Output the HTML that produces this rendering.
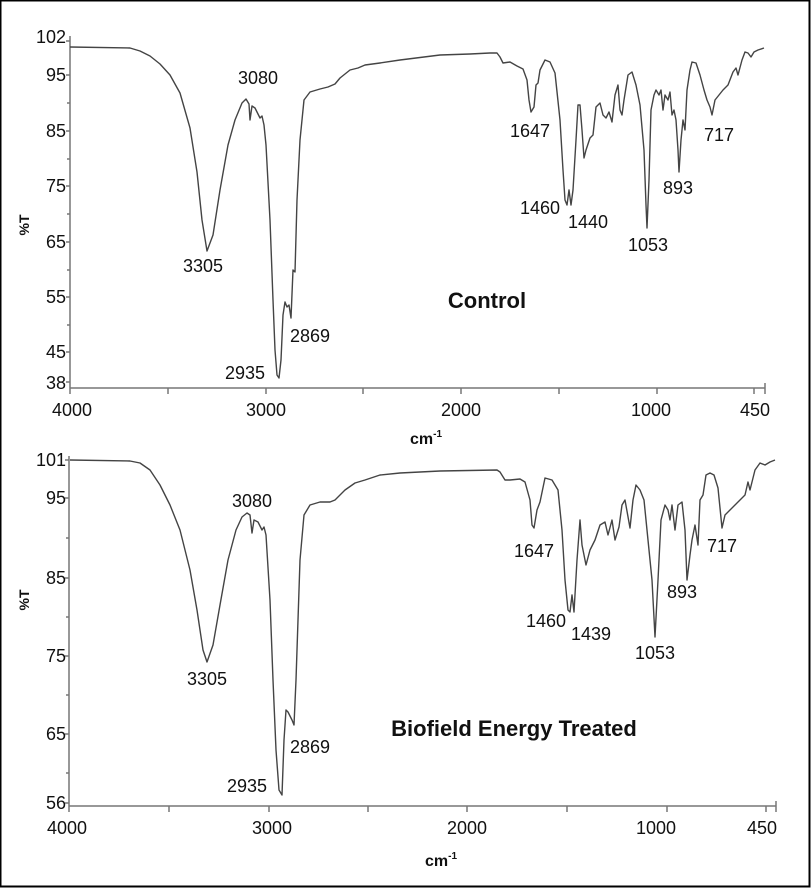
<!DOCTYPE html>
<html><head><meta charset="utf-8"><style>
html,body{margin:0;padding:0;background:#fff}
svg{display:block}
text{font-family:"Liberation Sans",Arial,sans-serif;fill:#111}
.n{font-size:18px}
.b{font-weight:bold}
</style></head><body>
<svg width="811" height="888" viewBox="0 0 811 888" xmlns="http://www.w3.org/2000/svg">
<rect x="0.5" y="0.5" width="809" height="886" fill="#fff" stroke="#000" stroke-width="2"/>
<g stroke="#777" stroke-width="1.5" fill="none">
<!-- top axes -->
<line x1="70" y1="36" x2="70" y2="388"/>
<line x1="70" y1="388" x2="765" y2="388"/>
<line x1="70" y1="388" x2="70" y2="394"/><line x1="168" y1="388" x2="168" y2="394"/><line x1="266" y1="388" x2="266" y2="394"/><line x1="363" y1="388" x2="363" y2="394"/><line x1="461" y1="388" x2="461" y2="394"/><line x1="559" y1="388" x2="559" y2="394"/><line x1="657" y1="388" x2="657" y2="394"/><line x1="754" y1="388" x2="754" y2="394"/><line x1="765" y1="383" x2="765" y2="394"/>
<line x1="66" y1="41" x2="70" y2="41"/><line x1="66" y1="75" x2="70" y2="75"/><line x1="67" y1="103" x2="70" y2="103"/><line x1="66" y1="131" x2="70" y2="131"/><line x1="67" y1="159" x2="70" y2="159"/><line x1="66" y1="186" x2="70" y2="186"/><line x1="67" y1="214" x2="70" y2="214"/><line x1="66" y1="242" x2="70" y2="242"/><line x1="67" y1="270" x2="70" y2="270"/><line x1="66" y1="297" x2="70" y2="297"/><line x1="67" y1="325" x2="70" y2="325"/><line x1="66" y1="352" x2="70" y2="352"/><line x1="66" y1="382" x2="70" y2="382"/>
<!-- bottom axes -->
<line x1="69" y1="456" x2="69" y2="806"/>
<line x1="69" y1="806" x2="776" y2="806"/>
<line x1="69" y1="806" x2="69" y2="812"/><line x1="169" y1="806" x2="169" y2="812"/><line x1="269" y1="806" x2="269" y2="812"/><line x1="368" y1="806" x2="368" y2="812"/><line x1="467" y1="806" x2="467" y2="812"/><line x1="567" y1="806" x2="567" y2="812"/><line x1="667" y1="806" x2="667" y2="812"/><line x1="766" y1="806" x2="766" y2="812"/><line x1="776" y1="801" x2="776" y2="812"/>
<line x1="65" y1="460" x2="69" y2="460"/><line x1="65" y1="498" x2="69" y2="498"/><line x1="66" y1="538" x2="69" y2="538"/><line x1="65" y1="578" x2="69" y2="578"/><line x1="66" y1="617" x2="69" y2="617"/><line x1="65" y1="656" x2="69" y2="656"/><line x1="66" y1="695" x2="69" y2="695"/><line x1="65" y1="734" x2="69" y2="734"/><line x1="66" y1="773" x2="69" y2="773"/><line x1="65" y1="803" x2="69" y2="803"/>
</g>
<g stroke="#444" stroke-width="1.4" fill="none" stroke-linejoin="round">
<polyline points="70,47 130,48 140,51 150,56 160,64 170,75 180,93 190,128 197,172 202,220 207,251 213,235 220,190 228,145 235,120 242,103 246,99 249,104 250,120 252,106 255,108 258,114 260,118 262,116 264,125 266,145 270,220 273,300 275,350 277,375 279,378 281,360 283,315 285,302 287,307 289,305 291,318 293,270 295,272 297,200 300,140 304,100 310,92 320,89 328,87 335,84 340,78 350,70 358,68 365,65 380,63 400,60 440,55 470,54 490,53 497,53 500,57 503,63 510,62 517,66 523,69 527,80 529,100 531,112 534,107 536,85 538,83 540,70 545,60 550,62 555,73 560,120 563,170 565,200 567,205 569,190 571,205 573,190 576,140 578,105 580,105 582,130 584,158 586,150 590,138 593,135 596,107 600,103 603,115 606,118 609,112 612,122 615,95 618,85 620,110 622,115 624,100 628,75 632,72 636,85 640,105 644,150 646,205 647,228 649,180 651,110 654,95 656,90 659,95 661,90 663,110 665,95 668,100 670,92 672,115 674,110 676,120 678,150 679,172 681,140 683,120 685,130 687,90 690,70 692,62 696,63 700,75 704,90 707,100 710,107 712,115 715,100 719,95 723,90 728,85 733,72 736,68 738,75 742,60 745,52 748,53 751,57 754,52 758,50 764,48"/>
<polyline points="70,460 130,461 140,463 150,470 160,485 170,505 180,530 190,570 197,610 203,650 207,662 213,645 220,605 228,560 236,530 242,517 247,513 250,515 252,533 254,520 258,522 262,530 264,527 266,535 270,600 273,680 276,750 279,790 282,795 284,740 286,710 288,712 290,716 292,720 294,725 296,680 298,620 300,560 304,515 310,505 320,502 330,502 335,500 340,495 345,490 355,483 365,480 380,475 400,473 440,471 497,470 500,472 505,480 510,480 520,479 525,482 530,500 532,525 534,528 537,510 540,502 545,478 552,480 558,490 562,530 565,580 568,610 570,612 572,595 574,612 577,560 580,520 582,545 586,565 590,550 595,540 600,525 605,522 608,535 612,520 615,540 619,527 622,505 625,500 630,528 633,500 636,485 640,490 644,500 648,540 652,580 655,637 658,580 661,520 665,505 668,510 670,520 672,505 675,530 678,505 682,502 685,530 687,580 690,555 692,540 695,525 698,545 700,500 703,495 706,475 710,473 714,475 718,488 722,528 725,515 730,510 735,505 740,500 745,495 748,482 750,490 755,470 760,463 765,465 770,462 775,460"/>
</g>
<g class="n" text-anchor="end">
<text x="66" y="43">102</text><text x="66" y="81">95</text><text x="66" y="137">85</text><text x="66" y="192">75</text><text x="66" y="248">65</text><text x="66" y="303">55</text><text x="66" y="358">45</text><text x="66" y="389">38</text>
<text x="66" y="466">101</text><text x="66" y="504">95</text><text x="66" y="584">85</text><text x="66" y="662">75</text><text x="66" y="740">65</text><text x="66" y="809">56</text>
</g>
<g class="n" text-anchor="middle">
<text x="72" y="416">4000</text><text x="266" y="416">3000</text><text x="461" y="416">2000</text><text x="651" y="416">1000</text><text x="755" y="416">450</text>
<text x="67" y="834">4000</text><text x="272" y="834">3000</text><text x="467" y="834">2000</text><text x="656" y="834">1000</text><text x="762" y="834">450</text>
<text x="258" y="84">3080</text><text x="203" y="272">3305</text><text x="245" y="379">2935</text><text x="310" y="342">2869</text>
<text x="530" y="137">1647</text><text x="540" y="214">1460</text><text x="588" y="228">1440</text><text x="648" y="251">1053</text><text x="678" y="194">893</text><text x="719" y="141">717</text>
<text x="252" y="507">3080</text><text x="207" y="685">3305</text><text x="247" y="792">2935</text><text x="310" y="753">2869</text>
<text x="534" y="557">1647</text><text x="546" y="627">1460</text><text x="591" y="640">1439</text><text x="655" y="659">1053</text><text x="682" y="598">893</text><text x="722" y="552">717</text>
</g>
<text x="487" y="308" text-anchor="middle" class="b" font-size="22">Control</text>
<text x="514" y="736" text-anchor="middle" class="b" font-size="22">Biofield Energy Treated</text>
<text x="410" y="444" class="b" font-size="16">cm<tspan font-size="10" dy="-7">-1</tspan></text>
<text x="425" y="866" class="b" font-size="16">cm<tspan font-size="10" dy="-7">-1</tspan></text>
<text transform="translate(29,225) rotate(-90)" text-anchor="middle" class="b" font-size="14">%T</text>
<text transform="translate(29,600) rotate(-90)" text-anchor="middle" class="b" font-size="14">%T</text>
</svg>
</body></html>
